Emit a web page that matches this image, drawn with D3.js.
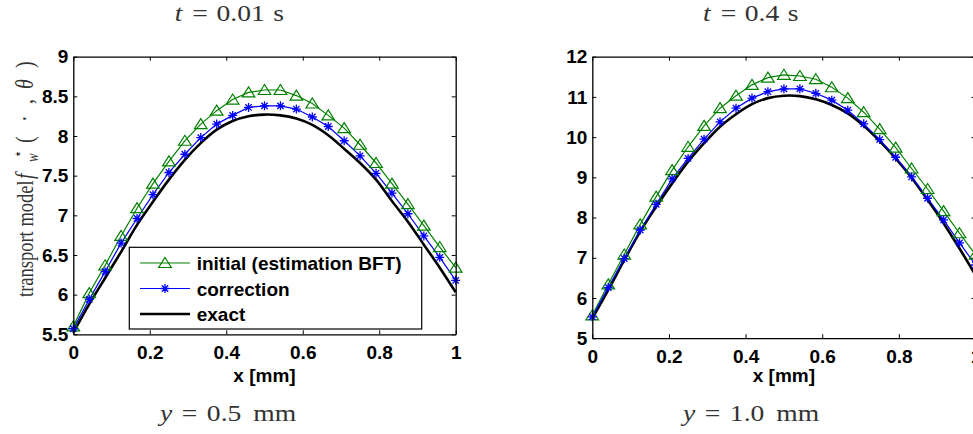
<!DOCTYPE html>
<html>
<head>
<meta charset="utf-8">
<script src="https://cdn.jsdelivr.net/npm/d3@7"></script>
<style>
  body { margin: 0; background: #fff; }
  .tick text { font-family: "Liberation Sans", Arial, sans-serif; font-weight: bold; font-size: 19px; fill: #000; }
  .title { font-family: "Liberation Serif", "DejaVu Serif", serif; font-size: 24px; fill: #333; }
</style>
</head>
<body>
<svg id="chart" width="973" height="434"></svg>
<script>
//
// Data
//

// x grid (mm)
var xGrid = [0, 0.0417, 0.0833, 0.125, 0.1667, 0.2083, 0.25, 0.2917, 0.3333, 0.375, 0.4167, 0.4583,
             0.5, 0.5417, 0.5833, 0.625, 0.6667, 0.7083, 0.75, 0.7917, 0.8333, 0.875, 0.9167, 0.9583, 1]
var xTicks = [0, 0.2, 0.4, 0.6, 0.8, 1]

// t = 0.01 s, y = 0.5 mm
var initialA = [5.60, 6.02, 6.37, 6.74, 7.09, 7.40, 7.68, 7.94, 8.15, 8.32, 8.46, 8.55,
                8.58, 8.58, 8.51, 8.41, 8.26, 8.10, 7.89, 7.66, 7.40, 7.14, 6.87, 6.60, 6.34]
var correctionA = [5.57, 5.94, 6.29, 6.65, 6.96, 7.26, 7.54, 7.77, 7.98, 8.15, 8.26, 8.36,
                   8.38, 8.38, 8.34, 8.24, 8.12, 7.94, 7.75, 7.53, 7.28, 7.02, 6.74, 6.47, 6.18]
var exactA = [5.52, 5.88, 6.21, 6.54, 6.88, 7.17, 7.45, 7.70, 7.91, 8.08, 8.19, 8.25,
              8.27, 8.26, 8.22, 8.14, 8.01, 7.84, 7.66, 7.45, 7.18, 6.92, 6.63, 6.34, 6.03]
var yTicksA = [5.5, 6, 6.5, 7, 7.5, 8, 8.5, 9]

// t = 0.4 s, y = 1.0 mm
var initialB = [5.57, 6.34, 7.08, 7.83, 8.52, 9.18, 9.76, 10.28, 10.72, 11.03, 11.30, 11.48,
                11.55, 11.52, 11.44, 11.24, 10.97, 10.62, 10.20, 9.74, 9.22, 8.71, 8.16, 7.61, 7.08]
var correctionB = [5.53, 6.26, 6.98, 7.69, 8.33, 8.96, 9.47, 9.95, 10.38, 10.72, 10.97, 11.13,
                   11.20, 11.20, 11.09, 10.92, 10.67, 10.33, 9.94, 9.50, 9.01, 8.48, 7.94, 7.37, 6.82]
var exactB = [5.49, 6.20, 6.94, 7.65, 8.27, 8.85, 9.39, 9.85, 10.26, 10.57, 10.82, 10.97,
              11.03, 11.02, 10.94, 10.80, 10.59, 10.28, 9.90, 9.47, 8.99, 8.44, 7.86, 7.23, 6.57]
var yTicksB = [5, 6, 7, 8, 9, 10, 11, 12]

var legendLabels = ['initial (estimation BFT)', 'correction', 'exact']

// colors
var colorInitial = 'rgb(0,128,0)'
var colorCorrection = 'rgb(0,0,255)'
var colorExact = '#000'

//
// Drawing
//

var svg = d3.select('#chart')
var titleStretch = 1.15

function drawMarker(g, type, color) {
    if (type == 'tri') {
        g.append('path')
            .attr('d', 'M0,-5.5L6.3,4.5L-6.3,4.5Z')
            .attr('fill', 'none').attr('stroke', color).attr('stroke-width', 1.2)
    } else {
        var r = 4.5, d = r * 0.7071
        var p = 'M' + (-r) + ',0L' + r + ',0M0,' + (-r) + 'L0,' + r +
                'M' + (-d) + ',' + (-d) + 'L' + d + ',' + d + 'M' + (-d) + ',' + d + 'L' + d + ',' + (-d)
        g.append('path').attr('d', p).attr('stroke', color).attr('stroke-width', 1.3)
    }
}

// caption laid out piece by piece (math italic variable, then roman parts)
function caption(x0, y0, pieces, gaps) {
    var x = x0
    pieces.forEach(function (p, i) {
        var t = svg.append('text').attr('class', 'title')
            .attr('transform', 'translate(' + x + ',' + y0 + ') scale(' + titleStretch + ',1)')
            .style('font-style', i == 0 ? 'italic' : 'normal')
            .text(p)
        x += t.node().getComputedTextLength() * titleStretch + (gaps[i] || 0)
    })
}

function panel(cfg) {
    var x = d3.scaleLinear().domain([0, 1]).range([cfg.x0, cfg.x1])
    var y = d3.scaleLinear().domain(cfg.yDomain).range([cfg.y1, cfg.y0])
    var g = svg.append('g')

    var line = d3.line().x(function (d, i) { return x(xGrid[i]) }).y(function (d) { return y(d) })
    var smooth = d3.line().curve(d3.curveCatmullRom)
        .x(function (d, i) { return x(xGrid[i]) }).y(function (d) { return y(d) })

    g.append('path').datum(cfg.exact).attr('d', smooth)
        .attr('fill', 'none').attr('stroke', colorExact).attr('stroke-width', 2.6)
    g.append('path').datum(cfg.initial).attr('d', line)
        .attr('fill', 'none').attr('stroke', colorInitial).attr('stroke-width', 1.2)
    g.append('path').datum(cfg.correction).attr('d', line)
        .attr('fill', 'none').attr('stroke', colorCorrection).attr('stroke-width', 1.2)

    cfg.initial.forEach(function (v, i) {
        drawMarker(g.append('g').attr('transform', 'translate(' + x(xGrid[i]) + ',' + y(v) + ')'), 'tri', colorInitial)
    })
    cfg.correction.forEach(function (v, i) {
        drawMarker(g.append('g').attr('transform', 'translate(' + x(xGrid[i]) + ',' + y(v) + ')'), 'star', colorCorrection)
    })

    // axes (box with inward ticks)
    var fmt = function (d) { return d3.format('')(d) }
    var axes = [
        [d3.axisBottom(x).tickValues(xTicks).tickFormat(fmt).tickPadding(11), 'translate(0,' + cfg.y1 + ')'],
        [d3.axisTop(x).tickValues(xTicks).tickFormat(''), 'translate(0,' + cfg.y0 + ')'],
        [d3.axisLeft(y).tickValues(cfg.yTicks).tickFormat(fmt).tickPadding(5), 'translate(' + cfg.x0 + ',0)'],
        [d3.axisRight(y).tickValues(cfg.yTicks).tickFormat(''), 'translate(' + cfg.x1 + ',0)']
    ]
    axes.forEach(function (a) {
        var ax = g.append('g').attr('transform', a[1])
            .call(a[0].tickSizeInner(-4).tickSizeOuter(0))
        ax.select('.domain').attr('stroke', '#000').attr('stroke-width', 1.3)
        ax.selectAll('.tick line').attr('stroke', '#000').attr('stroke-width', 1)
    })

    g.append('text')
        .attr('x', (cfg.x0 + cfg.x1) / 2).attr('y', 382)
        .attr('text-anchor', 'middle')
        .style('font-family', '"Liberation Sans", Arial, sans-serif')
        .style('font-weight', 'bold').style('font-size', '19px')
        .text('x [mm]')

    caption(cfg.topX, 20.7, ['t', '=', cfg.t, 's'], [10, 8.5, 8.5])
    caption(cfg.botX, 421, ['y', '=', cfg.ypos, 'mm'], [9.5, 9.5, 12])

    return g
}

panel({
    x0: 73.3, x1: 455.7, y0: 56.7, y1: 334.3, yDomain: [5.5, 9], yTicks: yTicksA,
    initial: initialA, correction: correctionA, exact: exactA,
    t: '0.01', ypos: '0.5', topX: 174.7, botX: 160
})

panel({
    x0: 592.3, x1: 975.5, y0: 56.7, y1: 338.2, yDomain: [5, 12], yTicks: yTicksB,
    initial: initialB, correction: correctionB, exact: exactB,
    t: '0.4', ypos: '1.0', topX: 703, botX: 683
})

//
// Legend (left panel)
//

var leg = svg.append('g')
leg.append('rect')
    .attr('x', 129.3).attr('y', 247.3).attr('width', 292.4).attr('height', 81.7)
    .attr('fill', '#fff').attr('stroke', '#000').attr('stroke-width', 1.2)

var legColors = [colorInitial, colorCorrection, colorExact]
var legMarkers = ['tri', 'star', null]
var legRows = [263, 288.5, 314]
legendLabels.forEach(function (lab, i) {
    var cy = legRows[i]
    leg.append('line')
        .attr('x1', 140).attr('x2', 190).attr('y1', cy).attr('y2', cy)
        .attr('stroke', legColors[i]).attr('stroke-width', i == 2 ? 2.6 : 1.2)
    if (legMarkers[i]) {
        drawMarker(leg.append('g').attr('transform', 'translate(165,' + cy + ')'), legMarkers[i], legColors[i])
    }
    leg.append('text')
        .attr('x', 196.7).attr('y', cy + 7)
        .style('font-family', '"Liberation Sans", Arial, sans-serif')
        .style('font-weight', 'bold').style('font-size', '19px')
        .text(lab)
})

//
// y label
//

var yl = svg.append('text')
    .attr('transform', 'translate(33,297) rotate(-90) scale(1,1.25)')
    .style('font-family', '"Liberation Serif", "DejaVu Serif", serif')
    .style('font-size', '18.5px').style('fill', '#333')
yl.append('tspan').attr('x', 0).text('transport model')
yl.append('tspan').attr('x', 118).style('font-style', 'italic').style('font-size', '20px').text('f')
yl.append('tspan').attr('x', 135).attr('dy', 4).style('font-style', 'italic').style('font-size', '13px').text('w')
yl.append('tspan').attr('x', 139).attr('dy', -12).style('font-size', '13px').text('⋆')
yl.append('tspan').attr('x', 154).attr('dy', 8).style('font-size', '20px').text('(')
yl.append('tspan').attr('x', 175).style('font-size', '20px').text('·')
yl.append('tspan').attr('x', 193).style('font-size', '20px').text(',')
yl.append('tspan').attr('x', 208).style('font-style', 'italic').style('font-size', '20px').text('θ')
yl.append('tspan').attr('x', 229).style('font-size', '20px').text(')')
</script>
</body>
</html>
